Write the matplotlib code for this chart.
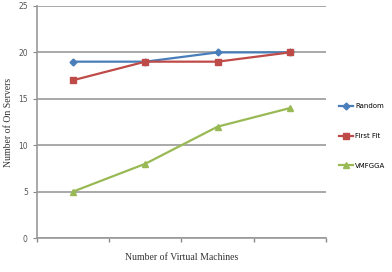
import matplotlib.pyplot as plt
import numpy as np

categories = ["1", "2", "3", "4"]
random_vals = [19, 19, 20, 20]
first_fit = [17, 19, 19, 20]
vmfgga = [5, 8, 12, 14]

fig = plt.figure(figsize=(3.92, 2.72), dpi=100)
ax = fig.add_axes([0.094, 0.125, 0.738, 0.853])

x = np.arange(len(categories))
ax.plot(x, random_vals, color="#4A7EBB", marker="D", ms=3.5, lw=1.6, label="Random")
ax.plot(x, first_fit, color="#BE4B48", marker="s", ms=4, lw=1.6, label="First Fit")
ax.plot(x, vmfgga, color="#98B954", marker="^", ms=4.5, lw=1.6, label="VMFGGA")

ax.set_xlim(-0.5, len(categories) - 0.5)
ax.set_ylim(0, 25)
ax.set_yticks(range(0, 26, 5))
ax.set_xticks(np.arange(-0.5, len(categories), 1.0))
ax.set_xticklabels([])
ax.tick_params(axis="x", length=3, color="#888888", width=1)
ax.tick_params(axis="y", length=3, color="#888888", labelsize=5.5, labelcolor="#555555")
ax.yaxis.grid(True, color="#999999", lw=1.2)
ax.set_axisbelow(True)
for s in ["top", "right"]:
    ax.spines[s].set_visible(False)
for s in ["left", "bottom"]:
    ax.spines[s].set_color("#999999")
    ax.spines[s].set_linewidth(1.2)

ax.set_xlabel("Number of Virtual Machines", family="Liberation Serif", fontsize=7, color="#333333")
ax.set_ylabel("Number of On Servers", family="Liberation Serif", fontsize=7, color="#333333")

fig.legend(loc="center left", bbox_to_anchor=(0.85, 0.5), frameon=False,
           fontsize=5, labelspacing=3.4, handlelength=2.0, handletextpad=0.3)

fig.savefig("out.png", dpi=100)
